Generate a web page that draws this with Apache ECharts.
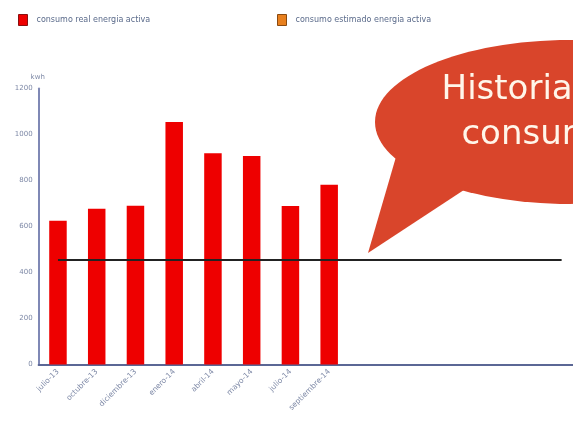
<!DOCTYPE html>
<html>
<head>
<meta charset="utf-8">
<script src="https://cdn.jsdelivr.net/npm/echarts@6/dist/echarts.min.js"></script>
<style>html,body{margin:0;padding:0;background:#fff;overflow:hidden;width:573px;height:421px;}#c{width:581px;height:421px;}</style>
</head>
<body>
<div id="c"></div>
<script>
const months = ['julio-13','octubre-13','diciembre-13','enero-14','abril-14','mayo-14','julio-14','septiembre-14'];
const emptySlots = ['_1','_2','_3','_4','_5','_6'];
const realValues = [625, 677, 690, 1054, 918, 906, 689, 782];
const estimatedValues = [null, null, null, null, null, null, null, null];
const yTicks = [0, 200, 400, 600, 800, 1000, 1200];
const averageValue = 455;
const seriesNames = ['consumo real energia activa', 'consumo estimado energia activa'];
const bubbleLines = ['Historial de', 'consumo'];

const chart = echarts.init(document.getElementById('c'), null, {renderer: 'canvas'});
const categories = months.concat(emptySlots);
const legendText = {color: '#5a6a8a', fontSize: 8, fontFamily: 'DejaVu Sans', padding: [0, 0, 0, 4]};
chart.setOption({
  animation: false,
  backgroundColor: '#ffffff',
  legend: [
    {data: [seriesNames[0]], left: 18, top: 14, padding: 0, itemWidth: 9, itemHeight: 11, icon: 'rect', textStyle: legendText,
     itemStyle: {borderColor: '#8a1010', borderWidth: 1}},
    {data: [seriesNames[1]], left: 277, top: 14, padding: 0, itemWidth: 9, itemHeight: 11, icon: 'rect', textStyle: legendText,
     itemStyle: {borderColor: '#8a4a10', borderWidth: 1}}
  ],
  grid: {left: 38.6, right: 0, top: 88.5, bottom: 56.5, containLabel: false},
  xAxis: {
    type: 'category', data: categories, boundaryGap: true,
    axisLine: {lineStyle: {color: '#5b6795', width: 2}},
    axisTick: {show: false},
    axisLabel: {rotate: 45, interval: 0, margin: 6, color: '#7d88a6', fontSize: 7.5, fontFamily: 'DejaVu Sans',
      formatter: (v, i) => i < months.length ? v : ''}
  },
  yAxis: {
    type: 'value', min: 0, max: 1200, interval: 200,
    name: 'kwh', nameLocation: 'end', nameGap: 8,
    nameTextStyle: {color: '#7d88a6', fontSize: 7, fontFamily: 'DejaVu Sans', align: 'left', padding: [0, 0, 0, -8]},
    axisLine: {show: true, lineStyle: {color: '#7f88b5', width: 2}},
    axisTick: {show: false},
    splitLine: {show: false},
    axisLabel: {color: '#7d88a6', fontSize: 7, fontFamily: 'DejaVu Sans', margin: 6,
      formatter: v => yTicks.indexOf(v) >= 0 ? String(v) : ''}
  },
  series: [
    {name: seriesNames[0], type: 'bar', data: realValues, barWidth: 17.5, barGap: '-100%',
     itemStyle: {color: '#ee0000'}, z: 2,
     markLine: {silent: true, symbol: 'none', label: {show: false}, z: 5,
       lineStyle: {color: '#222222', width: 2, type: 'solid'},
       data: [[{coord: [0, averageValue]}, {coord: [13, averageValue]}]]}},
    {name: seriesNames[1], type: 'bar', data: estimatedValues, barWidth: 17.5, barGap: '-100%',
     itemStyle: {color: '#e8801e'}}
  ],
  graphic: [
    {type: 'ellipse', shape: {cx: 570, cy: 122, rx: 195, ry: 82}, style: {fill: '#d9452b'}, z: 10},
    {type: 'polygon', shape: {points: [[398, 150], [368, 253], [470, 186]]}, style: {fill: '#d9452b'}, z: 10},
    {type: 'text', x: 538.5, y: 107, style: {text: bubbleLines[0], fill: '#fff6ea', font: '34px "DejaVu Sans"',
      textAlign: 'center', textVerticalAlign: 'bottom'}, z: 11},
    {type: 'text', x: 538.5, y: 152, style: {text: bubbleLines[1], fill: '#fff6ea', font: '34px "DejaVu Sans"',
      textAlign: 'center', textVerticalAlign: 'bottom'}, z: 11}
  ]
});
</script>
</body>
</html>
